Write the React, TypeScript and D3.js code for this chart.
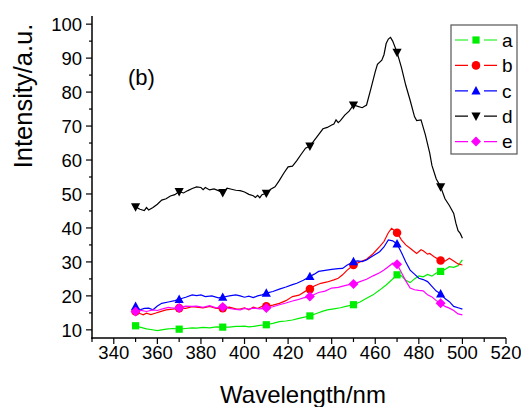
import React from "react";
import * as d3 from "d3";

type P = [number, number];

const seriesNames = ["a", "b", "c", "d", "e"];
const seriesColors = ["#00ee00", "#ff0000", "#0000ff", "#000000", "#ff00ff"];
const markerShapes = ["square", "circle", "triangle", "triangleDown", "diamond"];
const markerWavelengths = [350, 370, 390, 410, 430, 450, 470, 490];
const xTicks = [340, 360, 380, 400, 420, 440, 460, 480, 500, 520];
const yTicks = [10, 20, 30, 40, 50, 60, 70, 80, 90, 100];

const seriesA: P[] = [[350,11.2],[352,10.8],[355,10.3],[357,10.1],[360,9.8],[362,10],[364,10.2],[367,10.4],[370,10.2],[373,10.4],[376,10.6],[378,10.5],[381,10.7],[384,10.6],[387,10.9],[390,10.8],[393,10.8],[396,11],[398,11],[400,11.1],[402,10.9],[404,11],[407,11.3],[410,11.5],[413,11.9],[416,12.4],[419,12.6],[422,12.9],[425,13.4],[428,13.8],[430,14.1],[433,14.8],[436,15.5],[438,15.9],[441,16.2],[444,16.5],[447,17],[450,17.4],[453,18.2],[456,19.3],[459,20.3],[462,21.7],[465,23.2],[467,24.4],[470,26.2],[472,25.9],[474,24.6],[476,23.9],[478,25],[480,25.9],[482,25.6],[484,26.3],[486,25.8],[488,26.7],[490,27.2],[492,27.8],[494,28.6],[496,28.4],[498,28.9],[500,30.6]];
const seriesB: P[] = [[350,15.4],[352,14.8],[353.5,14.4],[355,14.9],[357,14.5],[359,14.9],[361,15.3],[364,15.9],[367,16.1],[370,16.4],[373,16.3],[376,16.8],[378,16.7],[381,16.5],[384,16.9],[387,16.3],[390,16.4],[393,16.7],[396,16.2],[398,16.1],[400,16.5],[402,15.9],[404,16.7],[406,16.3],[408,16.9],[410,16.9],[413,17.3],[416,17.8],[419,18.6],[422,19.8],[425,20.2],[428,21.4],[430,22],[432,22.9],[435,23.7],[438,24.1],[441,24.7],[443,25.2],[445,26.2],[447,27.5],[450,29.1],[453,30],[456,30.8],[459,32.4],[462,34.5],[464,36],[466,38.6],[467.5,39.9],[470,38.6],[472,36.5],[474,35],[476,34],[478,33],[479,32.5],[481,33.6],[482,33.3],[484,32.3],[485,32.5],[487,31.5],[490,30.4],[492,30.2],[494,31.1],[496,30.3],[498,29.4],[500,29.1]];
const seriesC: P[] = [[350,16.9],[352,15.9],[354,16.3],[356,16.4],[358,15.9],[360,17],[362,17.8],[365,18.2],[368,18.6],[370,19],[373,19.6],[376,20.3],[378,20.1],[380,20.3],[382,19.8],[385,20],[388,19.4],[390,19.6],[393,20],[396,20.3],[398,20],[400,19.6],[402,19.9],[404,19.5],[406,20],[408,20.3],[410,20.8],[413,21.3],[416,22],[419,22.6],[422,23.3],[424,23.7],[427,24.6],[430,25.7],[432,26.4],[434,27.2],[437,27.5],[440,27.8],[443,28],[445,28.1],[447,29],[450,30.1],[452,30.3],[454,30.1],[456,30.6],[459,31.8],[462,33],[464,34.4],[466,36.5],[468,36.2],[470,35.3],[472,32.8],[474,30],[476,27.6],[478,26.4],[480,25.2],[482,24.8],[484,24.2],[486,22.8],[488,21.4],[490,20.6],[492,19.2],[494,18.3],[496,16.9],[498,16.5],[500,16.1]];
const seriesD: P[] = [[350,46.2],[352,45.5],[354,45.1],[355,46],[356,45.3],[358,46],[360,47],[362,48.2],[364,48.6],[366,49.4],[368,49.8],[370,50.7],[372,50.3],[374,51],[376,51.6],[378,52.1],[380,51.9],[381,51.3],[382,51.9],[384,51.2],[386,51.5],[388,51],[390,50.4],[392,51.7],[394,51.4],[396,51.1],[398,51],[400,50.6],[402,49.9],[404,49.5],[405,49],[406,49.6],[407,48.9],[408,49.8],[410,50.2],[412,51.4],[414,52.1],[416,54],[418,56.1],[420,58],[422,58.2],[424,59.8],[426,61.7],[428,63.5],[430,64.1],[432,65.8],[434,67.5],[436,69.2],[438,69.6],[440,70.3],[441,70.6],[442,71.8],[443,71],[444,71.6],[446,73.2],[448,74.4],[450,76.2],[452,75.8],[454,75.4],[456,76.2],[458,81],[460,86],[461,88.2],[463,89.4],[464,91],[465,94.3],[466,95.6],[467,96.1],[468,95],[470,91.7],[472,87.3],[474,82],[476,77.6],[478,72.8],[479,71.6],[481,71.8],[483,67.4],[485,62],[486,58.4],[488,54.4],[490,52.1],[492,48.6],[494,46.6],[496,44.3],[497,41.4],[498,39.2],[499,38.4],[500,37]];
const seriesE: P[] = [[350,15.4],[352,15.8],[355,15.4],[358,15.9],[360,15.7],[362,16.1],[365,16.6],[368,16.3],[370,16.4],[373,17],[376,16.9],[378,17],[381,16.6],[384,17.1],[387,16.5],[390,16.7],[393,16.3],[396,16],[398,15.9],[400,16.3],[402,16.1],[404,16.4],[407,16.2],[410,16.4],[413,16.8],[416,17.4],[419,17.9],[422,18.5],[424,18.8],[427,19.4],[430,19.8],[432,20.4],[434,21],[437,21.4],[440,22.3],[443,22.5],[446,23],[448,23.3],[450,23.5],[453,24.2],[456,24.9],[459,25.9],[462,26.8],[464,27.6],[466,28.6],[468,29.6],[470,29.3],[472,26.9],[474,24.4],[476,22.3],[478,21.8],[480,21.6],[482,21.5],[484,20.3],[486,19.7],[488,18.6],[490,17.8],[492,16.9],[494,16.4],[496,15.7],[498,14.7],[500,14.4]];

const allSeries = [seriesA, seriesB, seriesC, seriesD, seriesE];

const W = 521, H = 407;
const FONT = "'Liberation Sans', Arial, sans-serif";

function Marker({ shape, x, y, color }: { shape: string; x: number; y: number; color: string }) {
  const s = 4.2;
  if (shape === "square") return <rect x={x - 3.6} y={y - 3.6} width={7.2} height={7.2} fill={color} />;
  if (shape === "circle") return <circle cx={x} cy={y} r={4.3} fill={color} />;
  if (shape === "triangle") return <path d={`M${x},${y - s - 0.6}L${x + s + 0.4},${y + s - 0.6}L${x - s - 0.4},${y + s - 0.6}Z`} fill={color} />;
  if (shape === "triangleDown") return <path d={`M${x},${y + s + 0.6}L${x + s + 0.4},${y - s + 0.6}L${x - s - 0.4},${y - s + 0.6}Z`} fill={color} />;
  return <path d={`M${x},${y - 5}L${x + 5},${y}L${x},${y + 5}L${x - 5},${y}Z`} fill={color} />;
}

export default function App() {
  const x = d3.scaleLinear().domain([330, 520]).range([92, 506]);
  const y = d3.scaleLinear().domain([7.6, 102.4]).range([338, 16]);
  const line = d3.line<P>().x((d) => x(d[0])).y((d) => y(d[1]));
  const xMinor = d3.range(330, 521, 10);
  const yMinor = d3.range(10, 101, 5);

  const legX = 451, legY = 25, legW = 66, legH = 129, legStep = 25.4;

  return (
    <svg width={W} height={H} style={{ position: "absolute", left: 0, top: 0, background: "#fff" }} fontFamily={FONT}>
      {allSeries.map((s, i) => (
        <path key={"l" + i} d={line(s) || ""} fill="none" stroke={seriesColors[i]} strokeWidth={1.2} />
      ))}
      {allSeries.map((s, i) =>
        s
          .filter((p) => markerWavelengths.includes(p[0]))
          .map((p, j) => <Marker key={"m" + i + "-" + j} shape={markerShapes[i]} x={x(p[0])} y={y(p[1])} color={seriesColors[i]} />)
      )}

      <line x1={92} x2={92} y1={16} y2={338.75} stroke="#000" strokeWidth={1.5} />
      <line x1={91.25} x2={506} y1={338} y2={338} stroke="#000" strokeWidth={1.5} />
      {yMinor.map((v) => (
        <line key={"ym" + v} x1={92} x2={v % 10 === 0 ? 86 : 89} y1={y(v)} y2={y(v)} stroke="#000" strokeWidth={1.2} />
      ))}
      {xMinor.map((v) => (
        <line key={"xm" + v} x1={x(v)} x2={x(v)} y1={338} y2={v % 20 === 0 ? 344 : 342} stroke="#000" strokeWidth={1.2} />
      ))}
      {yTicks.map((v) => (
        <text key={"yt" + v} x={82} y={y(v)} dy="0.36em" textAnchor="end" fontSize={18.5} fill="#000">{v}</text>
      ))}
      {xTicks.map((v) => (
        <text key={"xt" + v} x={x(v)} y={358.5} textAnchor="middle" fontSize={18.5} fill="#000">{v}</text>
      ))}

      <text x={303} y={403} textAnchor="middle" fontSize={24} fill="#000">Wavelength/nm</text>
      <text transform="translate(32,96) rotate(-90)" textAnchor="middle" fontSize={25.5} fill="#000">Intensity/a.u.</text>
      <text x={128} y={85} fontSize={22} fill="#000">(b)</text>

      <rect x={legX} y={legY} width={legW} height={legH} fill="#fff" stroke="#555" strokeWidth={1.2} />
      {seriesNames.map((n, i) => {
        const cy = legY + 15 + i * legStep;
        return (
          <g key={"lg" + n}>
            <line x1={455} x2={497} y1={cy} y2={cy} stroke={seriesColors[i]} strokeWidth={1.2} />
            <rect x={468} y={cy - 6} width={16} height={12} fill="#fff" />
            <Marker shape={markerShapes[i]} x={476} y={cy} color={seriesColors[i]} />
            <text x={502} y={cy} dy="0.36em" fontSize={19} fill="#000">{n}</text>
          </g>
        );
      })}
    </svg>
  );
}
